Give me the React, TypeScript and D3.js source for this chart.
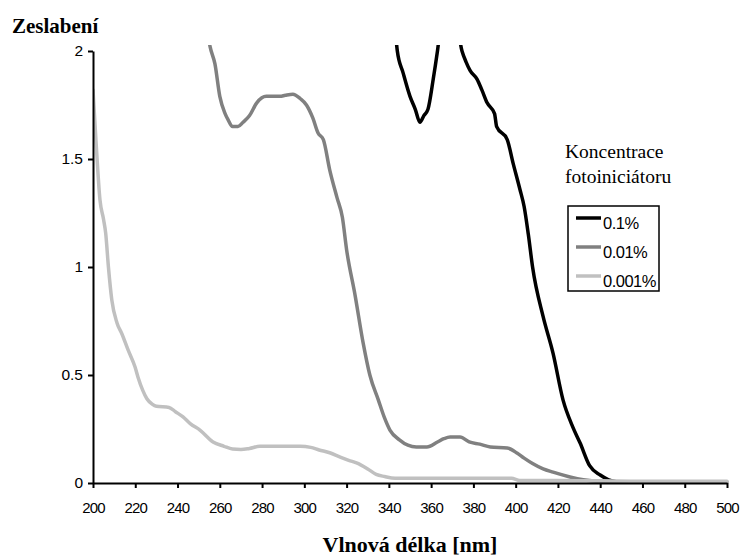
import React, { useEffect, useRef } from "react";
import * as d3 from "d3";

// Absorbance spectra for three photoinitiator concentrations
const wl001 = [200, 201.5, 203.3, 205, 206, 207.3, 208.9, 211.4, 213.7, 216.6, 219.9, 221.3, 223.5, 225.5, 228, 230, 236, 239, 242.6, 246, 250.6, 256.8, 262, 266, 270, 274, 279, 290, 298, 303, 307, 312, 317, 321, 325, 330, 334, 338, 343, 360, 380, 398, 402, 420, 440, 460, 480, 500];
const abs001 = [1.82, 1.57, 1.31, 1.22, 1.157, 1.0, 0.847, 0.74, 0.69, 0.616, 0.537, 0.49, 0.43, 0.39, 0.365, 0.355, 0.35, 0.33, 0.306, 0.275, 0.245, 0.19, 0.17, 0.157, 0.155, 0.16, 0.17, 0.17, 0.17, 0.165, 0.153, 0.14, 0.12, 0.105, 0.092, 0.065, 0.04, 0.03, 0.022, 0.022, 0.022, 0.022, 0.012, 0.012, 0.01, 0.008, 0.008, 0.008];

const wl01 = [254, 255.4, 257.7, 260, 262.5, 264, 266, 268.6, 271, 274, 277.5, 282, 288.5, 291, 294.6, 298, 301, 304, 306.5, 309, 312, 315.5, 318, 320, 324, 327.8, 331, 335, 338, 340.5, 345, 349, 353, 358, 363, 366, 369, 373.7, 378, 383, 388, 396, 400.6, 404, 408, 413, 417.7, 425.7, 432, 440, 450, 470, 500];
const abs01 = [2.1, 2.02, 1.94, 1.79, 1.71, 1.68, 1.65, 1.65, 1.67, 1.7, 1.76, 1.79, 1.79, 1.795, 1.8, 1.78, 1.75, 1.69, 1.62, 1.59, 1.45, 1.32, 1.23, 1.08, 0.87, 0.65, 0.5, 0.385, 0.3, 0.245, 0.2, 0.175, 0.167, 0.167, 0.19, 0.205, 0.213, 0.213, 0.19, 0.18, 0.167, 0.162, 0.139, 0.115, 0.09, 0.065, 0.05, 0.028, 0.015, 0.007, 0.005, 0.005, 0.005];

const wl1 = [343, 344, 346.7, 350, 352.5, 354.7, 356.5, 358.5, 361, 363, 368, 374.6, 376.5, 378.4, 381.7, 384, 386.5, 390, 391, 396, 398.8, 402, 404, 406, 408, 413, 417.7, 422.4, 427, 430.5, 435, 440, 444, 448];
const abs1 = [2.1, 2.0, 1.9, 1.79, 1.73, 1.67, 1.7, 1.73, 1.87, 2.0, 2.4, 2.0, 1.95, 1.91, 1.87, 1.82, 1.76, 1.71, 1.65, 1.59, 1.48, 1.36, 1.28, 1.15, 1.0, 0.77, 0.6, 0.385, 0.26, 0.185, 0.08, 0.037, 0.015, 0.005];

const seriesNames = ["0.1%", "0.01%", "0.001%"];
const seriesColors = ["#000000", "#808080", "#c0c0c0"];
const xTicks = [200, 220, 240, 260, 280, 300, 320, 340, 360, 380, 400, 420, 440, 460, 480, 500];
const yTicks = [0, 0.5, 1, 1.5, 2];

const W = 741;
const H = 558;
const left = 93;
const right = 727;
const top = 51;
const bottom = 483;

export default function App() {
  const xAxisRef = useRef<SVGGElement>(null);
  const yAxisRef = useRef<SVGGElement>(null);

  const x = d3.scaleLinear().domain([200, 500]).range([left, right]);
  const y = d3.scaleLinear().domain([0, 2]).range([bottom, top]);

  const line = d3
    .line<[number, number]>()
    .x((d) => x(d[0]))
    .y((d) => y(d[1]))
    .curve(d3.curveMonotoneX);

  const toPts = (wl: number[], a: number[]) => wl.map((w, i) => [w, a[i]] as [number, number]);
  const series = [toPts(wl1, abs1), toPts(wl01, abs01), toPts(wl001, abs001)];

  useEffect(() => {
    const xa = d3
      .axisBottom(x)
      .tickValues(xTicks)
      .tickSize(5)
      .tickSizeOuter(0)
      .tickPadding(14)
      .tickFormat((d) => String(d));
    const gx = d3.select(xAxisRef.current!);
    gx.call(xa as any);
    gx.select(".domain").attr("stroke", "#000").attr("stroke-width", 2);
    gx.selectAll(".tick line").attr("stroke", "#000").attr("stroke-width", 2);
    gx.selectAll(".tick text")
      .attr("fill", "#000")
      .attr("font-family", "'Liberation Sans', Arial, sans-serif")
      .attr("font-size", 15)
      .attr("letter-spacing", -0.8);

    const ya = d3
      .axisLeft(y)
      .tickValues(yTicks)
      .tickSize(5)
      .tickSizeOuter(0)
      .tickPadding(5)
      .tickFormat((d) => String(d));
    const gy = d3.select(yAxisRef.current!);
    gy.call(ya as any);
    gy.select(".domain").attr("stroke", "#000").attr("stroke-width", 2);
    gy.selectAll(".tick line").attr("stroke", "#000").attr("stroke-width", 2);
    gy.selectAll(".tick text")
      .attr("fill", "#000")
      .attr("font-family", "'Liberation Sans', Arial, sans-serif")
      .attr("font-size", 15.5);
  }, []);

  const legendX = 568;
  const legendY = 206;

  return (
    <svg
      width={W}
      height={H}
      style={{ position: "absolute", left: 0, top: 0, background: "#fff" }}
    >
      <defs>
        <clipPath id="plotClip">
          <rect x={left} y={45} width={right - left + 2} height={bottom - 45 + 4} />
        </clipPath>
      </defs>
      <rect x={0} y={0} width={W} height={H} fill="#fff" />

      <g clipPath="url(#plotClip)">
        {series.map((pts, i) => (
          <path
            key={seriesNames[i]}
            d={line(pts) ?? ""}
            fill="none"
            stroke={seriesColors[i]}
            strokeWidth={3.5}
            strokeLinejoin="round"
            strokeLinecap="round"
          />
        ))}
      </g>

      <g ref={xAxisRef} transform={`translate(0,${bottom})`} />
      <g ref={yAxisRef} transform={`translate(${left},0)`} />

      <text
        x={12}
        y={33}
        fontFamily="'Liberation Serif', 'Times New Roman', serif"
        fontWeight="bold"
        fontSize={21}
      >
        Zeslabení
      </text>
      <text
        x={(left + right) / 2}
        y={552}
        textAnchor="middle"
        fontFamily="'Liberation Serif', 'Times New Roman', serif"
        fontWeight="bold"
        fontSize={22}
      >
        Vlnová délka [nm]
      </text>

      <text
        x={565}
        y={158}
        fontFamily="'Liberation Serif', 'Times New Roman', serif"
        fontSize={19.5}
      >
        Koncentrace
      </text>
      <text
        x={565}
        y={183}
        fontFamily="'Liberation Serif', 'Times New Roman', serif"
        fontSize={19.5}
      >
        fotoiniciátoru
      </text>

      <rect
        x={legendX}
        y={legendY}
        width={91}
        height={85}
        fill="#fff"
        stroke="#000"
        strokeWidth={1.5}
      />
      {seriesNames.map((name, i) => (
        <g key={name} transform={`translate(${legendX},${legendY + 12 + i * 29})`}>
          <line x1={8} x2={33} y1={0} y2={0} stroke={seriesColors[i]} strokeWidth={3.5} />
          <text
            x={35}
            y={11}
            fontFamily="'Liberation Sans', Arial, sans-serif"
            fontSize={16.5}
            letterSpacing={-0.5}
          >
            {name}
          </text>
        </g>
      ))}
    </svg>
  );
}
